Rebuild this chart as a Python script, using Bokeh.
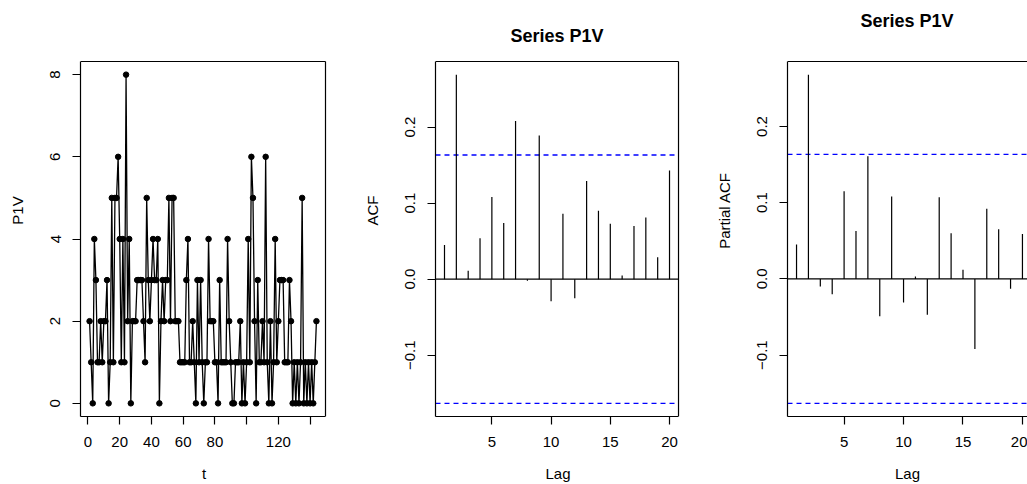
from bokeh.plotting import figure
from bokeh.layouts import row
from bokeh.models import Range1d, FixedTicker, Label
from bokeh.embed import file_html
from bokeh.resources import INLINE

# ---------------- data ----------------
p1v = [2, 1, 0, 4, 3, 1, 1, 2, 1, 2,
       2, 3, 0, 1, 5, 1, 5, 5, 6, 4,
       1, 4, 1, 8, 2, 4, 0, 2, 2, 2,
       3, 3, 3, 3, 2, 1, 5, 3, 2, 3,
       4, 3, 3, 4, 0, 2, 3, 2, 3, 3,
       5, 2, 5, 5, 2, 2, 2, 1, 1, 1,
       1, 3, 4, 1, 1, 2, 1, 0, 3, 1,
       3, 1, 0, 1, 1, 4, 2, 2, 2, 1,
       1, 0, 3, 1, 1, 1, 1, 4, 2, 1,
       0, 0, 1, 1, 1, 2, 0, 1, 0, 1,
       4, 1, 6, 5, 2, 0, 3, 1, 1, 2,
       1, 6, 1, 0, 2, 0, 1, 4, 1, 2,
       3, 3, 3, 1, 1, 1, 3, 2, 0, 1,
       0, 1, 0, 1, 5, 0, 1, 0, 1, 0,
       1, 0, 1, 2]
t_index = list(range(1, len(p1v) + 1))

lags = list(range(1, 21))
acf_vals = [0.045, 0.269, 0.011, 0.054, 0.108, 0.074, 0.208, -0.002, 0.189, -0.029,
            0.086, -0.025, 0.129, 0.090, 0.073, 0.005, 0.070, 0.081, 0.029, 0.143]
pacf_vals = [0.045, 0.268, -0.010, -0.020, 0.115, 0.063, 0.161, -0.049, 0.108, -0.031,
             0.003, -0.047, 0.107, 0.060, 0.012, -0.092, 0.092, 0.065, -0.013, 0.059]
ci_level = 0.1633

ts_xticks = [0, 20, 40, 60, 80, 100, 120, 140]
ts_xticks_unlabelled = [100, 140]
ts_yticks = [0, 2, 4, 6, 8]
lag_ticks = [5, 10, 15, 20]
acf_yticks = [-0.1, 0.0, 0.1, 0.2]
acf_ylabels = ["\u22120.1", "0.0", "0.1", "0.2"]

FONT = "Liberation Sans"
H = 484
BOX_TOP = 61       # px from top of canvas to the top of the plot box
BOX_H = 355        # plot box height, px
BOX_W = 245        # plot box width, px
BOTTOM = H - BOX_TOP - BOX_H
TOP = 4            # drawing frame starts here so titles can live inside it


def pad(lo, hi, frac=0.04):
    d = (hi - lo) * frac
    return lo - d, hi + d


def panel(width, left, frame_w, xr_box, yr_box, xticks, yticks, xlabel, ylabel,
          title=None, title_rise=0):
    frame_h = H - TOP - BOTTOM
    x0, x1 = xr_box
    y0, y1 = yr_box
    x_end = x0 + (x1 - x0) * frame_w / BOX_W
    y_end = y0 + (y1 - y0) * frame_h / BOX_H
    p = figure(width=width, height=H, x_range=Range1d(x0, x_end), y_range=Range1d(y0, y_end),
               output_backend="svg", toolbar_location=None,
               min_border_left=left, min_border_right=width - left - frame_w,
               min_border_top=TOP, min_border_bottom=BOTTOM)
    p.xgrid.visible = False
    p.ygrid.visible = False
    p.background_fill_color = "white"
    p.border_fill_color = "white"
    p.outline_line_color = None
    for ax in (p.xaxis[0], p.yaxis[0]):
        ax.major_tick_out = 8
        ax.major_tick_in = 0
        ax.minor_tick_line_color = None
        ax.major_tick_line_width = 1.2
        ax.axis_line_width = 1.2
        ax.major_label_text_font = FONT
        ax.major_label_text_font_size = "15px"
        ax.major_label_text_color = "black"
        ax.major_label_standoff = 12
        ax.axis_label_text_font = FONT
        ax.axis_label_text_font_size = "15px"
        ax.axis_label_text_font_style = "normal"
        ax.axis_label_text_color = "black"
    p.xaxis[0].axis_label_standoff = 15
    p.yaxis[0].axis_label_standoff = 22
    p.yaxis[0].major_label_orientation = "vertical"
    p.xaxis[0].ticker = FixedTicker(ticks=xticks)
    p.yaxis[0].ticker = FixedTicker(ticks=yticks)
    p.xaxis[0].bounds = (x0, x1)
    p.yaxis[0].bounds = (y0, y1)
    p.xaxis[0].axis_label = xlabel
    p.yaxis[0].axis_label = ylabel
    # top and right edges of the plot box (left/bottom are the axis lines)
    p.segment(x0=[x0, x1], y0=[y1, y0], x1=[x1, x1], y1=[y1, y1],
              line_color="black", line_width=1.2)
    if title is not None:
        p.add_layout(Label(x=(x0 + x1) / 2, y=y1, y_offset=title_rise, text=title,
                           text_font=FONT, text_font_size="18px", text_font_style="bold",
                           text_color="black", text_align="center",
                           text_baseline="alphabetic"))
    return p


# ---------------- panel 1 : time series ----------------
xr1 = pad(min(t_index), max(t_index))
yr1 = pad(min(p1v), max(p1v))
p1 = panel(360, 80, BOX_W + 2, xr1, yr1, ts_xticks, ts_yticks, "t", "P1V")
p1.xaxis[0].major_label_overrides = {k: "" for k in ts_xticks_unlabelled}
p1.line(t_index, p1v, line_color="black", line_width=1.3)
p1.scatter(t_index, p1v, size=5.5, fill_color="black", line_color="black")


# ---------------- correlogram panels ----------------
def correlogram(p, xr_box, vals):
    x0, x1 = xr_box
    p.segment(x0=[x0], y0=[0], x1=[x1], y1=[0], line_color="black", line_width=1.2)
    p.segment(x0=[x0, x0], y0=[ci_level, -ci_level], x1=[x1, x1], y1=[ci_level, -ci_level],
              line_color="blue", line_width=1.3, line_dash="5 4")
    p.segment(x0=lags, y0=[0] * len(lags), x1=lags, y1=vals, line_color="black", line_width=1.2)
    p.yaxis[0].major_label_overrides = dict(zip(acf_yticks, acf_ylabels))


xr2 = pad(min(lags), max(lags))
yr2 = pad(min(-ci_level, min(acf_vals)), max(ci_level, max(acf_vals)))
p2 = panel(352, 73, BOX_W + 2, xr2, yr2, lag_ticks, acf_yticks, "Lag", "ACF",
           title="Series P1V", title_rise=26)
correlogram(p2, xr2, acf_vals)

xr3 = pad(min(lags), max(lags))
yr3 = pad(min(-ci_level, min(pacf_vals)), max(ci_level, max(pacf_vals)))
p3 = panel(315, 74, 315 - 74, xr3, yr3, lag_ticks, acf_yticks, "Lag", "Partial ACF",
           title="Series  P1V", title_rise=41)
correlogram(p3, xr3, pacf_vals)

layout = row(p1, p2, p3)
open("out.html", "w").write(file_html(layout, INLINE))
